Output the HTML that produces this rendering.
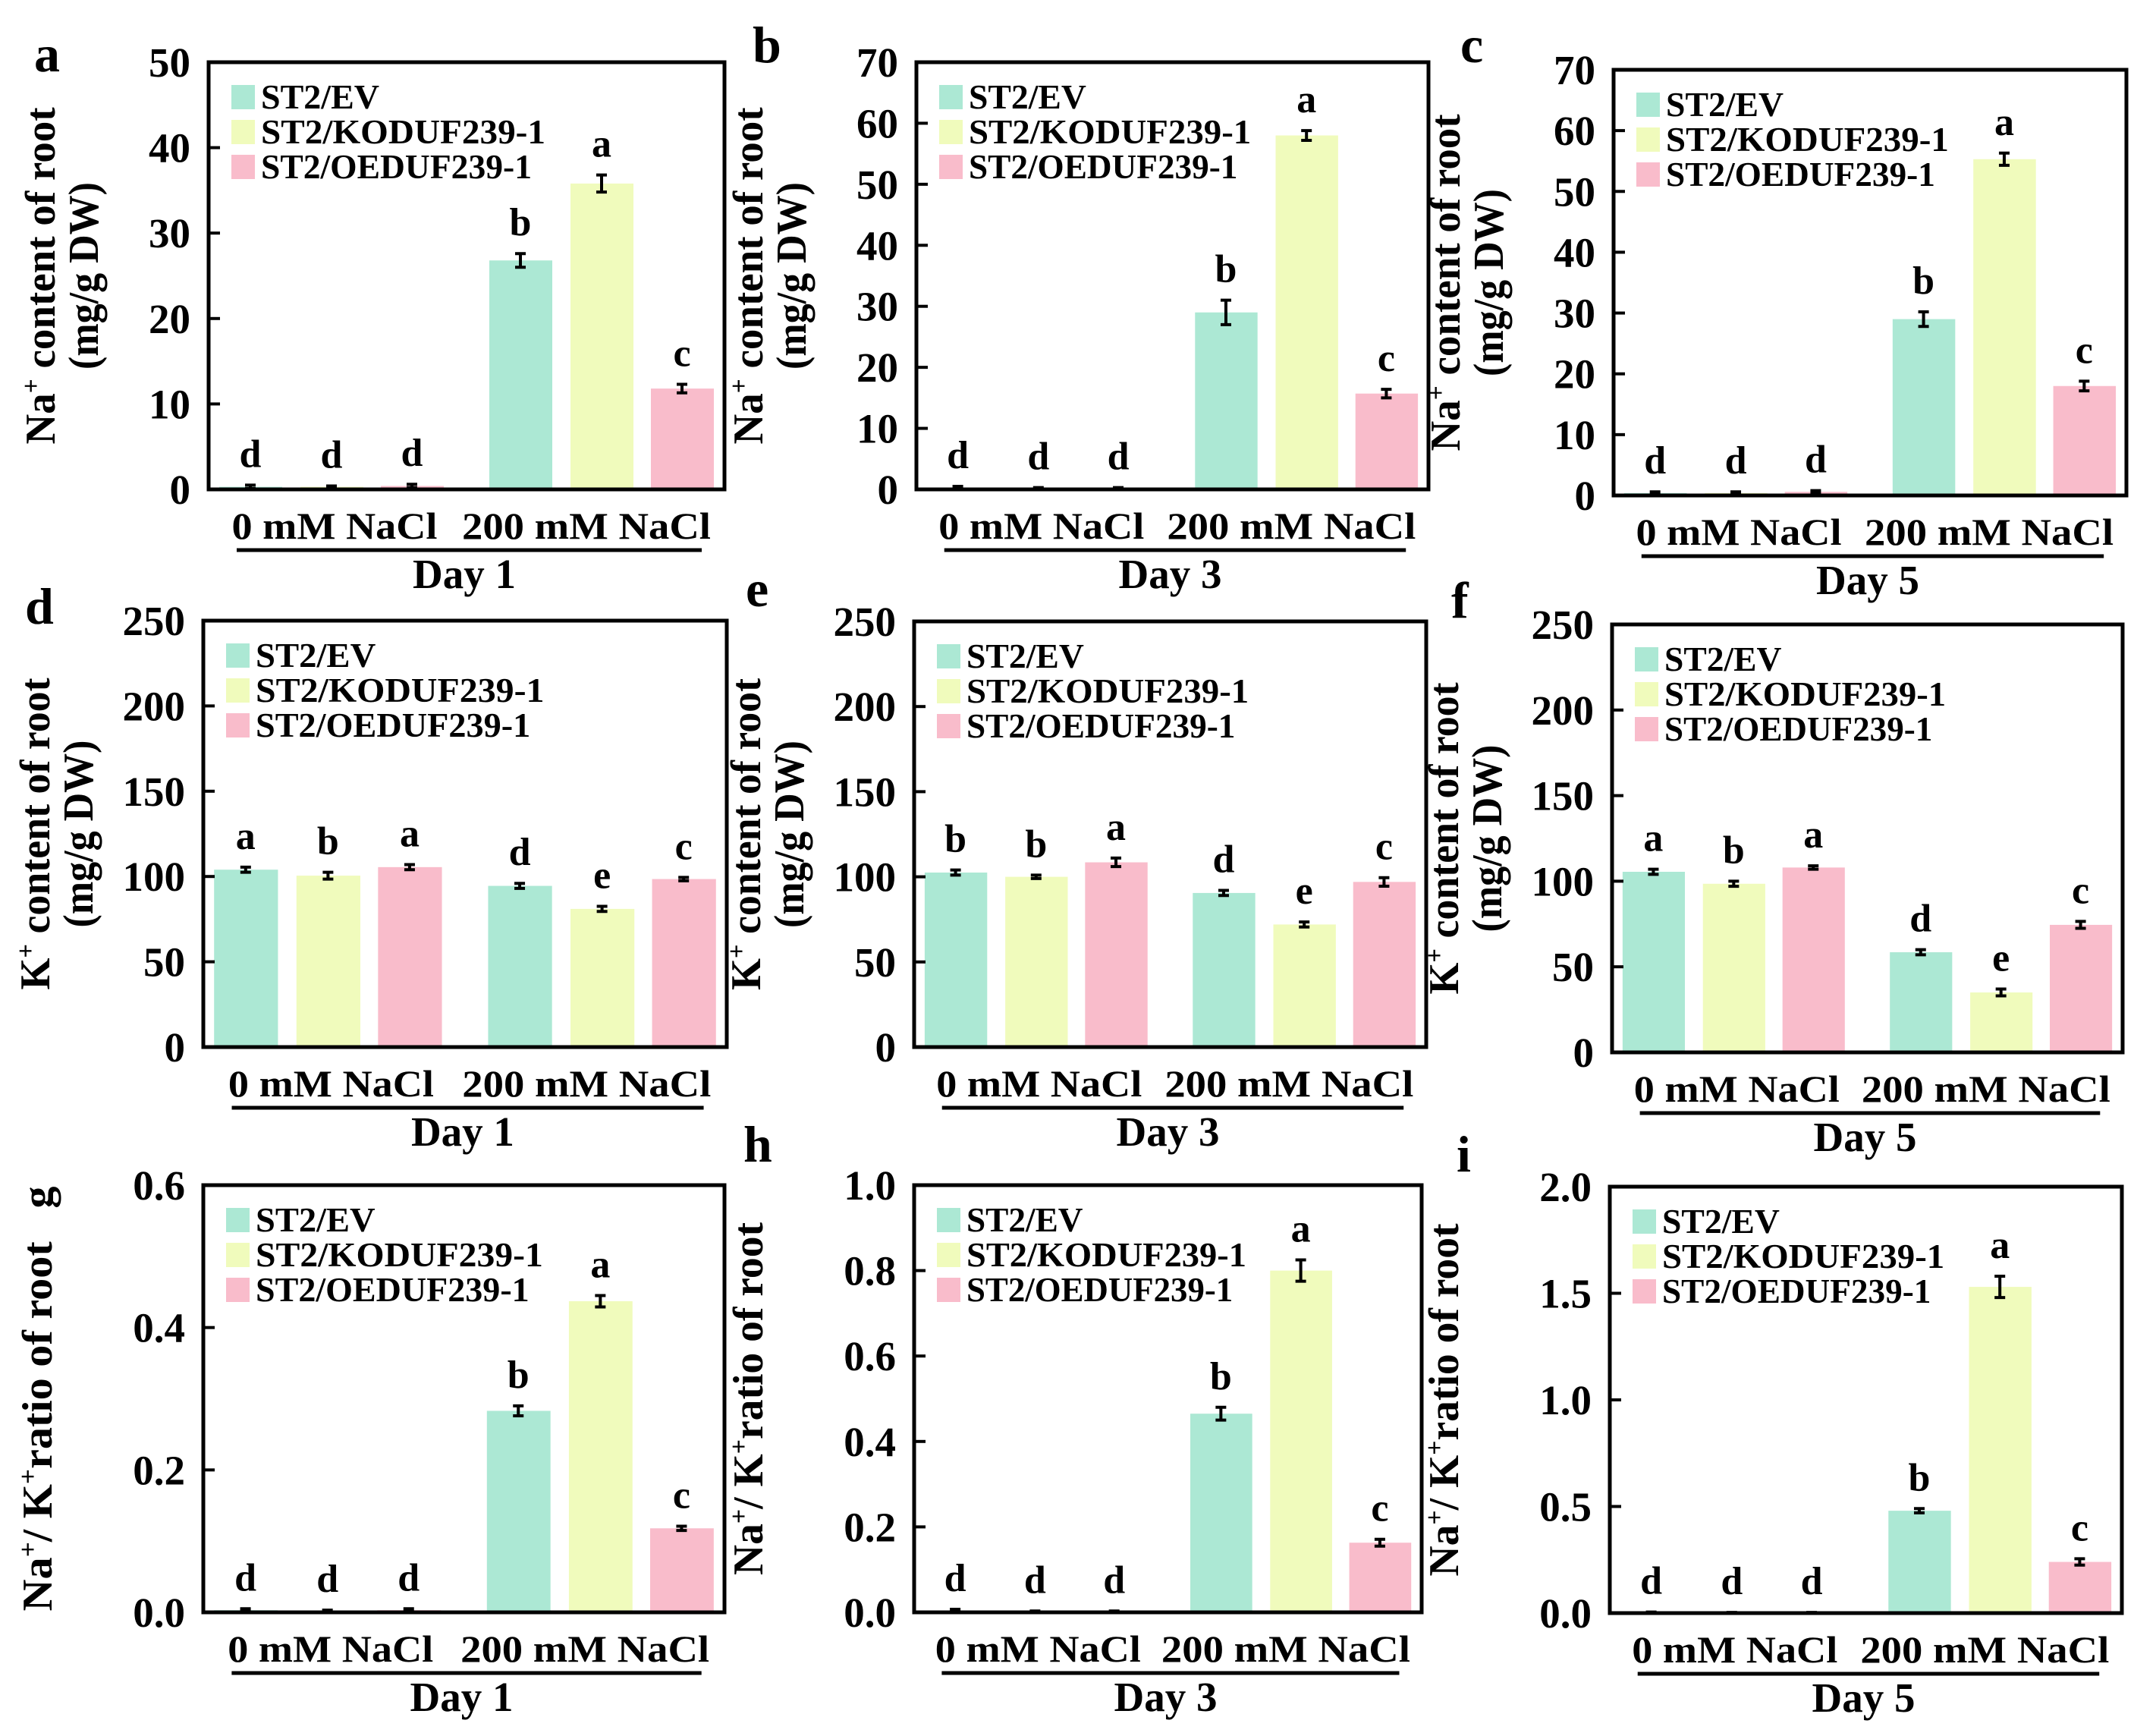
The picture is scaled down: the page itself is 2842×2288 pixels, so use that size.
<!DOCTYPE html>
<html><head><meta charset="utf-8"><style>
html,body{margin:0;padding:0;background:#fff}
svg{display:block}
text{font-family:"Liberation Serif","Times New Roman",serif;font-weight:bold;fill:#000}
</style></head><body>
<svg id="fig" width="2842" height="2288" viewBox="0 0 2842 2288" xmlns="http://www.w3.org/2000/svg"></svg>
<script>
const groupNames = ["0 mM NaCl", "200 mM NaCl"];
const seriesNames = ["ST2/EV", "ST2/KODUF239-1", "ST2/OEDUF239-1"];
const seriesColors = ["#ace8d4", "#f0fbbc", "#f9bccb"];

const naValuesDay1 = [0.3, 0.3, 0.4, 26.8, 35.8, 11.8];
const naErrDay1 = [0.2, 0.1, 0.2, 0.8, 1.0, 0.5];
const naLettersDay1 = ["d","d","d","b","a","c"];
const naValuesDay3 = [0.3, 0.2, 0.2, 29.0, 58.0, 15.7];
const naErrDay3 = [0.2, 0.1, 0.1, 2.0, 0.8, 0.7];
const naLettersDay3 = ["d","d","d","b","a","c"];
const naValuesDay5 = [0.4, 0.4, 0.6, 29.0, 55.3, 18.0];
const naErrDay5 = [0.2, 0.2, 0.2, 1.2, 1.0, 0.8];
const naLettersDay5 = ["d","d","d","b","a","c"];

const kValuesDay1 = [104, 100.5, 105.5, 94.5, 81, 98.5];
const kErrDay1 = [1.5, 2, 1.5, 1.5, 1.5, 1];
const kLettersDay1 = ["a","b","a","d","e","c"];
const kValuesDay3 = [102.5, 100, 108.5, 90.5, 72, 97];
const kErrDay3 = [1.5, 1, 2.5, 1.5, 1.5, 2.5];
const kLettersDay3 = ["b","b","a","d","e","c"];
const kValuesDay5 = [105.5, 98.5, 108, 58.5, 35, 74.5];
const kErrDay5 = [1.5, 1.5, 1, 1.5, 2, 2];
const kLettersDay5 = ["a","b","a","d","e","c"];

const ratioValuesDay1 = [0.003, 0.002, 0.003, 0.283, 0.437, 0.118];
const ratioErrDay1 = [0.002, 0.001, 0.002, 0.007, 0.008, 0.003];
const ratioLettersDay1 = ["d","d","d","b","a","c"];
const ratioValuesDay3 = [0.004, 0.002, 0.002, 0.465, 0.80, 0.163];
const ratioErrDay3 = [0.003, 0.001, 0.001, 0.015, 0.025, 0.008];
const ratioLettersDay3 = ["d","d","d","b","a","c"];
const ratioValuesDay5 = [0.003, 0.002, 0.002, 0.48, 1.53, 0.24];
const ratioErrDay5 = [0.002, 0.001, 0.001, 0.01, 0.05, 0.015];
const ratioLettersDay5 = ["d","d","d","b","a","c"];

const ticksNa1 = [0,10,20,30,40,50];
const ticksNa3 = [0,10,20,30,40,50,60,70];
const ticksK = [0,50,100,150,200,250];
const ticksR1 = [0,0.2,0.4,0.6];
const ticksR3 = [0,0.2,0.4,0.6,0.8,1.0];
const ticksR5 = [0,0.5,1.0,1.5,2.0];

const NS = "http://www.w3.org/2000/svg";
const svg = document.getElementById("fig");
function mk(tag, attrs, parent, txt){
  const e = document.createElementNS(NS, tag);
  for (const k in attrs) e.setAttribute(k, attrs[k]);
  if (txt !== undefined) e.textContent = txt;
  (parent || svg).appendChild(e);
  return e;
}

const panels = [
 {id:"a", L:275,T:82,R:955,B:645, lx:45,ly:94, vals:naValuesDay1, err:naErrDay1, let:naLettersDay1, ticks:ticksNa1, dec:0, day:"Day 1", title:["Na","content of root"], line2:"(mg/g DW)", tl:444},
 {id:"b", L:1208,T:82,R:1883,B:645, lx:992,ly:82, vals:naValuesDay3, err:naErrDay3, let:naLettersDay3, ticks:ticksNa3, dec:0, day:"Day 3", title:["Na","content of root"], line2:"(mg/g DW)", tl:444},
 {id:"c", L:2127,T:92,R:2803,B:653, lx:1925,ly:82, vals:naValuesDay5, err:naErrDay5, let:naLettersDay5, ticks:ticksNa3, dec:0, day:"Day 5", title:["Na","content of root"], line2:"(mg/g DW)", tl:444},
 {id:"d", L:268,T:818,R:958,B:1380, lx:33,ly:822, vals:kValuesDay1, err:kErrDay1, let:kLettersDay1, ticks:ticksK, dec:0, day:"Day 1", title:["K","content of root"], line2:"(mg/g DW)", tl:411},
 {id:"e", L:1205,T:819,R:1880,B:1380, lx:983,ly:799, vals:kValuesDay3, err:kErrDay3, let:kLettersDay3, ticks:ticksK, dec:0, day:"Day 3", title:["K","content of root"], line2:"(mg/g DW)", tl:411},
 {id:"f", L:2125,T:823,R:2798,B:1387, lx:1913,ly:814, vals:kValuesDay5, err:kErrDay5, let:kLettersDay5, ticks:ticksK, dec:0, day:"Day 5", title:["K","content of root"], line2:"(mg/g DW)", tl:411},
 {id:"g", L:268,T:1562,R:955,B:2125, lx:-1,ly:0, vals:ratioValuesDay1, err:ratioErrDay1, let:ratioLettersDay1, ticks:ticksR1, dec:1, day:"Day 1", ratio:true, tl:560},
 {id:"h", L:1205,T:1562,R:1874,B:2125, lx:980,ly:1531, vals:ratioValuesDay3, err:ratioErrDay3, let:ratioLettersDay3, ticks:ticksR3, dec:1, day:"Day 3", ratio:true, tl:465},
 {id:"i", L:2122,T:1564,R:2797,B:2126, lx:1920,ly:1544, vals:ratioValuesDay5, err:ratioErrDay5, let:ratioLettersDay5, ticks:ticksR5, dec:1, day:"Day 5", ratio:true, tl:465}
];

const barOffsets = [55,162,268,411,518,624];

panels.forEach(p => {
  const g = mk("g", {});
  
  
  const W = p.R - p.L, H = p.B - p.T;
  const sx = W / 680;
  const ymax = p.ticks[p.ticks.length-1];
  const y = v => p.B - (v / ymax) * H;
  const x = i => p.L + barOffsets[i] * sx;

  p.vals.forEach((v,i) => {
    const r = mk("rect", {x: x(i) - 41*sx, y: y(v), width: 83*sx, height: p.B - y(v), fill: seriesColors[i%3]}, g);
    
    
    const e1 = y(v + p.err[i]), e2 = y(Math.max(0, v - p.err[i]));
    const eb = mk("path", {d:`M${x(i)-7},${e1}H${x(i)+7}M${x(i)},${e1}V${e2}M${x(i)-7},${e2}H${x(i)+7}`, stroke:"#000", "stroke-width":4, fill:"none"}, g);
    
    
    const lt = mk("text", {x: x(i), y: e1 - 24, "text-anchor":"middle", "font-size":52}, g, p.let[i]);
    
    
  });

  const box = mk("rect", {x:p.L, y:p.T, width:W, height:H, fill:"none", stroke:"#000", "stroke-width":5}, g);
  
  

  p.ticks.forEach(t => {
    const ty = y(t);
    const tk = mk("line", {x1:p.L, x2:p.L+15, y1:ty, y2:ty, stroke:"#000", "stroke-width":4}, g);
    
    
    const tl = mk("text", {x:p.L-24, y:ty+19, "text-anchor":"end", "font-size":55}, g, t.toFixed(p.dec));
    
    
  });

  seriesNames.forEach((s,k) => {
    const cy = p.T + 46 + k*46;
    const sw = mk("rect", {x:p.L+30, y:cy-16, width:31, height:32, fill:seriesColors[k]}, g);
    
    
    const lens = [156, 375, 357];
    const tx = mk("text", {x:p.L+69, y:cy+15, "font-size":45, textLength:lens[k]*sx, lengthAdjust:"spacingAndGlyphs"}, g, s);
    
    
  });

  const xl1 = mk("text", {x:p.L+166*sx, y:p.B+65, "text-anchor":"middle", "font-size":50, textLength:271, lengthAdjust:"spacingAndGlyphs"}, g, groupNames[0]);
  
  
  const xl2 = mk("text", {x:p.L+498*sx, y:p.B+65, "text-anchor":"middle", "font-size":50, textLength:328, lengthAdjust:"spacingAndGlyphs"}, g, groupNames[1]);
  
  
  const ul = mk("line", {x1:p.L+37*sx, x2:p.L+650*sx, y1:p.B+80, y2:p.B+80, stroke:"#000", "stroke-width":5}, g);
  
  
  const dy = mk("text", {x:p.L+337*sx, y:p.B+130, "text-anchor":"middle", "font-size":55}, g, p.day);
  
  

  const cy = (p.T + p.B)/2;
  if (p.ratio) {
    const t = mk("text", {transform:`translate(${p.L-200},${cy}) rotate(-90)`, "text-anchor":"middle", "font-size":56, textLength:p.tl, lengthAdjust:"spacingAndGlyphs"}, g);
    
    
    mk("tspan", {}, t, "Na");
    mk("tspan", {dy:-20, "font-size":34}, t, "+");
    mk("tspan", {dy:20}, t, "/ K");
    mk("tspan", {dy:-20, "font-size":34}, t, "+");
    mk("tspan", {dy:20}, t, "ratio of root" + (p.id === "g" ? "\u00a0\u00a0\u00a0g" : ""));
  } else {
    const t = mk("text", {transform:`translate(${p.L-203},${cy}) rotate(-90)`, "text-anchor":"middle", "font-size":56, textLength:p.tl, lengthAdjust:"spacingAndGlyphs"}, g);
    
    
    mk("tspan", {}, t, p.title[0]);
    mk("tspan", {dy:-20, "font-size":34}, t, "+");
    mk("tspan", {dy:20}, t, " " + p.title[1]);
    const t2 = mk("text", {transform:`translate(${p.L-146},${cy}) rotate(-90)`, "text-anchor":"middle", "font-size":56, textLength:247, lengthAdjust:"spacingAndGlyphs"}, g, p.line2);
    
    
  }

  if (p.lx >= 0) {
    const pl = mk("text", {x:p.lx, y:p.ly, "font-size":68}, g, p.id);
    
    
  }
});
</script>
</body></html>
